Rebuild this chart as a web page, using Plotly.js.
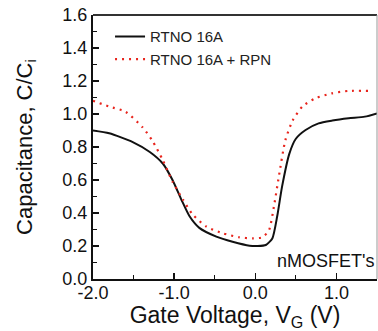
<!DOCTYPE html>
<html><head><meta charset="utf-8">
<script src="https://cdn.plot.ly/plotly-3.0.1.min.js"></script>
<style>html,body{margin:0;padding:0;background:#fff}#c{width:378px;height:331px}</style>
</head><body><div id="c"></div>
<script>
const blackX = [-2.0,-1.8,-1.51,-1.3,-1.14,-1.02,-0.91,-0.81,-0.69,-0.48,-0.28,-0.07,0.03,0.13,0.21,0.27,0.33,0.42,0.50,0.62,0.78,0.95,1.15,1.35,1.5];
const blackY = [0.90,0.883,0.83,0.77,0.70,0.60,0.48,0.38,0.31,0.257,0.226,0.202,0.20,0.206,0.246,0.38,0.56,0.76,0.85,0.903,0.943,0.96,0.974,0.984,1.004];
const redX = [-2.0,-1.8,-1.6,-1.39,-1.27,-1.14,-1.02,-0.89,-0.77,-0.6,-0.4,-0.2,-0.03,0.09,0.17,0.23,0.29,0.37,0.46,0.58,0.74,0.94,1.15,1.4];
const redY = [1.08,1.045,1.014,0.92,0.84,0.72,0.59,0.48,0.39,0.317,0.277,0.253,0.246,0.253,0.297,0.44,0.62,0.84,0.96,1.045,1.095,1.125,1.14,1.14];
const seriesNames = ["RTNO 16A","RTNO 16A + RPN"];
const xTicks = [-2.0,-1.0,0.0,1.0];
const xTickText = ["-2.0","-1.0","0.0","1.0"];
const yTicks = [0.0,0.2,0.4,0.6,0.8,1.0,1.2,1.4,1.6];
const yTickText = ["0.0","0.2","0.4","0.6","0.8","1.0","1.2","1.4","1.6"];

const F = "Liberation Sans, Arial, Helvetica, sans-serif";
const traces = [
  {x: blackX, y: blackY, name: seriesNames[0], mode: "lines", line: {color: "#111", width: 2, shape: "spline", smoothing: 0.6}},
  {x: redX, y: redY, name: seriesNames[1], mode: "lines", line: {color: "#e8241c", width: 2.2, dash: "2px,5px", shape: "spline", smoothing: 0.6}}
];
const layout = {
  width: 378, height: 331,
  margin: {l: 93, r: 1, t: 15, b: 52},
  paper_bgcolor: "#fff", plot_bgcolor: "#fff",
  showlegend: true,
  legend: {x: 0.06, y: 0.98, xanchor: "left", yanchor: "top", bgcolor: "rgba(0,0,0,0)",
           font: {family: F, size: 15, color: "#222"}, tracegroupgap: 0, itemwidth: 30},
  xaxis: {
    range: [-2.0, 1.5], tickvals: xTicks, ticktext: xTickText,
    ticks: "inside", ticklen: 6, tickwidth: 1.5, tickcolor: "#111",
    minor: {dtick: 0.5, tick0: 0, ticks: "inside", ticklen: 4, tickwidth: 1, tickcolor: "#111"},
    showgrid: false, zeroline: false, showline: true, linecolor: "#111", linewidth: 2, mirror: false,
    tickfont: {family: F, size: 18, color: "#111"}, ticklabelstandoff: -4,
    title: {text: "Gate Voltage, V<sub>G</sub> (V)", font: {family: F, size: 23, color: "#111"}, standoff: 5}
  },
  yaxis: {
    range: [0, 1.6], tickvals: yTicks, ticktext: yTickText,
    ticks: "inside", ticklen: 6, tickwidth: 1.5, tickcolor: "#111",
    minor: {dtick: 0.1, tick0: 0, ticks: "inside", ticklen: 4, tickwidth: 1, tickcolor: "#111"},
    showgrid: false, zeroline: false, showline: true, linecolor: "#111", linewidth: 2,
    tickfont: {family: F, size: 18, color: "#111"},
    title: {text: "Capacitance, C/C<sub>i</sub>", font: {family: F, size: 22, color: "#111"}, standoff: 24}
  },
  shapes: [
    {type: "line", xref: "paper", yref: "paper", x0: 0, x1: 1, y0: 1, y1: 1, line: {color: "#333", width: 2}},
    {type: "line", xref: "paper", yref: "paper", x0: 1, x1: 1, y0: 0, y1: 1, line: {color: "#999", width: 1}}
  ],
  annotations: [
    {text: "nMOSFET's", xref: "paper", yref: "paper", x: 0.995, y: 0.07, xanchor: "right", yanchor: "middle",
     showarrow: false, font: {family: F, size: 18, color: "#111"}}
  ]
};
Plotly.newPlot("c", traces, layout, {staticPlot: true, displayModeBar: false});
</script></body></html>
